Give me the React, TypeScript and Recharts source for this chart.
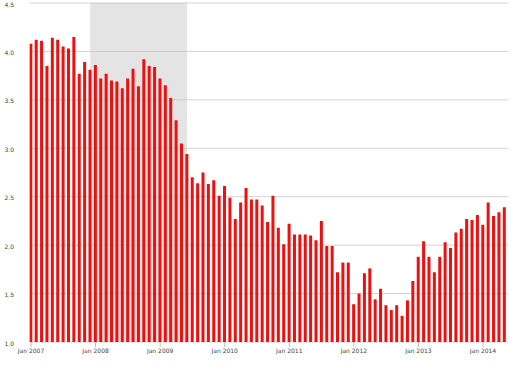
import {
  BarChart,
  Bar,
  XAxis,
  YAxis,
  CartesianGrid,
  ReferenceArea,
} from "recharts"

// monthly values, one list per year (Jan..Dec)
const values2007 = [4.08, 4.12, 4.11, 3.85, 4.14, 4.12, 4.05, 4.03, 4.15, 3.77, 3.89, 3.81]
const values2008 = [3.86, 3.72, 3.77, 3.7, 3.69, 3.62, 3.72, 3.82, 3.64, 3.92, 3.85, 3.84]
const values2009 = [3.72, 3.65, 3.52, 3.29, 3.05, 2.94, 2.7, 2.64, 2.75, 2.63, 2.67, 2.51]
const values2010 = [2.61, 2.49, 2.27, 2.44, 2.59, 2.47, 2.47, 2.41, 2.24, 2.51, 2.18, 2.01]
const values2011 = [2.22, 2.11, 2.11, 2.11, 2.1, 2.05, 2.25, 1.99, 1.99, 1.72, 1.82, 1.82]
const values2012 = [1.39, 1.5, 1.71, 1.76, 1.44, 1.55, 1.38, 1.33, 1.38, 1.27, 1.43, 1.63]
const values2013 = [1.88, 2.04, 1.88, 1.72, 1.88, 2.03, 1.97, 2.13, 2.17, 2.27, 2.26, 2.31]
const values2014 = [2.21, 2.44, 2.3, 2.34, 2.39]

const years = [2007, 2008, 2009, 2010, 2011, 2012, 2013, 2014]
const yTicks = [1.0, 1.5, 2.0, 2.5, 3.0, 3.5, 4.0, 4.5]

// recession shading: Dec 2007 .. Jun 2009 (month index from Jan 2007)
const recessionStart = 11
const recessionEnd = 29

const allValues = [
  ...values2007,
  ...values2008,
  ...values2009,
  ...values2010,
  ...values2011,
  ...values2012,
  ...values2013,
  ...values2014,
]

const data = allValues.map((value, i) => ({ month: i, value }))
const xTicks = years.map((_, i) => i * 12)

const YTick = ({ x, y, payload }: any) => (
  <text
    x={x}
    y={y + 1.5}
    dy="0.355em"
    textAnchor="end"
    fontSize={6}
    fontFamily="DejaVu Sans"
    fill="#444"
  >
    {Number(payload.value).toFixed(1)}
  </text>
)

export default function App() {
  return (
    <div style={{ position: "absolute", left: 0, top: 0 }}>
      <BarChart
        width={515}
        height={365}
        data={data}
        margin={{ top: 3, right: 7, left: 0, bottom: 0 }}
      >
        <CartesianGrid vertical={false} stroke="#d2d2d2" />
        <ReferenceArea
          x1={recessionStart}
          x2={recessionEnd}
          y1={1}
          y2={4.5}
          fill="#c4c4c4"
          fillOpacity={0.45}
          stroke="none"
        />
        <XAxis
          dataKey="month"
          type="number"
          domain={[-0.28, 88.65]}
          ticks={xTicks}
          tickFormatter={(v) => `Jan ${years[Math.round(v / 12)]}`}
          axisLine={false}
          tickLine={{ stroke: "#bbb" }}
          tickSize={5}
          tickMargin={2}
          height={23}
          interval={0}
          allowDataOverflow
          tick={{ fontSize: 6, fontFamily: "DejaVu Sans", fill: "#444" }}
        />
        <YAxis
          domain={[1, 4.5]}
          ticks={yTicks}
          width={29.5}
          axisLine={false}
          tickLine={false}
          tickSize={0}
          tickMargin={15.5}
          interval={0}
          allowDataOverflow
          tick={<YTick />}
        />
        <Bar
          dataKey="value"
          fill="#ee0f0f"
          barSize={3}
          isAnimationActive={false}
        />
      </BarChart>
    </div>
  )
}
